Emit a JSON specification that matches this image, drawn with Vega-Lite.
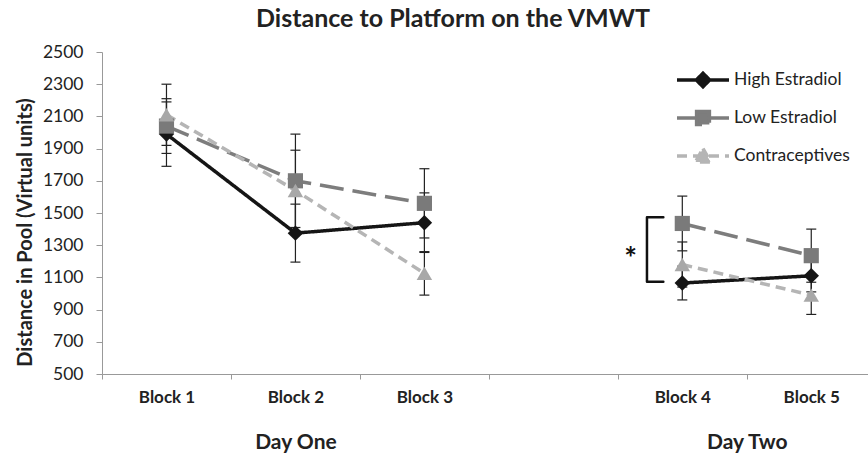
{
  "$schema": "https://vega.github.io/schema/vega-lite/v6.json",
  "width": 766,
  "height": 322,
  "autosize": {"type": "none"},
  "padding": {"left": 102, "top": 52, "right": 0, "bottom": 82},
  "background": "white",
  "config": {
    "view": {"stroke": null},
    "font": "Lato",
    "axisY": {"grid": false, "tickSize": 6, "tickColor": "#999", "domainColor": "#999", "labelFont": "Lato", "labelFontSize": 17.5, "labelColor": "#222", "labelPadding": 13, "labelOverlap": false,
      "titleFont": "Lato", "titleFontSize": 20, "titleFontWeight": "bold", "titleColor": "#222", "titleX": -77, "titleY": 180, "titleAngle": -90, "titleBaseline": "middle", "titleAlign": "center"}
  },
  "title": {"text": "Distance to Platform on the VMWT", "font": "Lato", "fontSize": 25, "fontWeight": "bold", "color": "#222", "frame": "group", "anchor": "middle", "dx": -32, "offset": 11},
  "datasets": {
    "means": [
      {"block": "Block 1", "slot": 1, "day": "Day One", "group": "High Estradiol", "mean": 1990, "lo": 1790, "hi": 2190},
      {"block": "Block 2", "slot": 2, "day": "Day One", "group": "High Estradiol", "mean": 1375, "lo": 1195, "hi": 1555},
      {"block": "Block 3", "slot": 3, "day": "Day One", "group": "High Estradiol", "mean": 1440, "lo": 1255, "hi": 1625},
      {"block": "Block 4", "slot": 5, "day": "Day Two", "group": "High Estradiol", "mean": 1065, "lo": 960, "hi": 1170},
      {"block": "Block 5", "slot": 6, "day": "Day Two", "group": "High Estradiol", "mean": 1110, "lo": 1010, "hi": 1210},
      {"block": "Block 1", "slot": 1, "day": "Day One", "group": "Low Estradiol", "mean": 2040, "lo": 1870, "hi": 2210},
      {"block": "Block 2", "slot": 2, "day": "Day One", "group": "Low Estradiol", "mean": 1700, "lo": 1410, "hi": 1990},
      {"block": "Block 3", "slot": 3, "day": "Day One", "group": "Low Estradiol", "mean": 1560, "lo": 1345, "hi": 1775},
      {"block": "Block 4", "slot": 5, "day": "Day Two", "group": "Low Estradiol", "mean": 1435, "lo": 1265, "hi": 1605},
      {"block": "Block 5", "slot": 6, "day": "Day Two", "group": "Low Estradiol", "mean": 1235, "lo": 1070, "hi": 1400},
      {"block": "Block 1", "slot": 1, "day": "Day One", "group": "Contraceptives", "mean": 2110, "lo": 1920, "hi": 2300},
      {"block": "Block 2", "slot": 2, "day": "Day One", "group": "Contraceptives", "mean": 1640, "lo": 1390, "hi": 1890},
      {"block": "Block 3", "slot": 3, "day": "Day One", "group": "Contraceptives", "mean": 1125, "lo": 990, "hi": 1260},
      {"block": "Block 4", "slot": 5, "day": "Day Two", "group": "Contraceptives", "mean": 1180, "lo": 1040, "hi": 1320},
      {"block": "Block 5", "slot": 6, "day": "Day Two", "group": "Contraceptives", "mean": 990, "lo": 870, "hi": 1110}
    ],
    "bracket": [
      {"bx": 4.853, "by": 1473, "o": 1},
      {"bx": 4.726, "by": 1473, "o": 2},
      {"bx": 4.726, "by": 1073, "o": 3},
      {"bx": 4.853, "by": 1073, "o": 4}
    ],
    "star": [
      {"sx": 4.6, "sy": 1260, "label": "*"}
    ]
  },
  "resolve": {"axis": {"x": "independent"}},
  "layer": [
    {
      "data": {"name": "means"},
      "mark": {"type": "rule", "color": "#222", "strokeWidth": 1.2},
      "encoding": {
        "x": {"field": "slot", "type": "quantitative", "scale": {"domain": [0.5, 6.44], "nice": false, "zero": false}, "axis": null},
        "y": {"field": "lo", "type": "quantitative", "scale": {"domain": [500, 2500], "nice": false, "zero": false},
          "axis": {"values": [500, 700, 900, 1100, 1300, 1500, 1700, 1900, 2100, 2300, 2500], "format": "d", "title": "Distance in Pool (Virtual units)", "labelFontSize": 17.5, "labelPadding": 13, "titleFontSize": 20}},
        "y2": {"field": "hi"}
      }
    },
    {
      "data": {"name": "means"},
      "mark": {"type": "tick", "orient": "horizontal", "color": "#222", "size": 10, "thickness": 1.2, "opacity": 1},
      "encoding": {
        "x": {"field": "slot", "type": "quantitative", "scale": {"domain": [0.5, 6.44], "nice": false, "zero": false}, "axis": null},
        "y": {"field": "lo", "type": "quantitative", "scale": {"domain": [500, 2500], "nice": false, "zero": false},
          "axis": {"values": [500, 700, 900, 1100, 1300, 1500, 1700, 1900, 2100, 2300, 2500], "format": "d", "title": "Distance in Pool (Virtual units)", "labelFontSize": 17.5, "labelPadding": 13, "titleFontSize": 20}}
      }
    },
    {
      "data": {"name": "means"},
      "mark": {"type": "tick", "orient": "horizontal", "color": "#222", "size": 10, "thickness": 1.2, "opacity": 1},
      "encoding": {
        "x": {"field": "slot", "type": "quantitative", "scale": {"domain": [0.5, 6.44], "nice": false, "zero": false}, "axis": null},
        "y": {"field": "hi", "type": "quantitative", "scale": {"domain": [500, 2500], "nice": false, "zero": false},
          "axis": {"values": [500, 700, 900, 1100, 1300, 1500, 1700, 1900, 2100, 2300, 2500], "format": "d", "title": "Distance in Pool (Virtual units)", "labelFontSize": 17.5, "labelPadding": 13, "titleFontSize": 20}}
      }
    },
    {
      "data": {"name": "means"},
      "mark": {"type": "line", "strokeWidth": 3.5},
      "encoding": {
        "x": {"field": "slot", "type": "quantitative", "scale": {"domain": [0.5, 6.44], "nice": false, "zero": false},
          "axis": {"orient": "bottom", "values": [0.5, 1.5, 2.5, 3.5, 4.5, 5.5],
            "labelExpr": "datum.value == 0.5 ? 'Block 1' : datum.value == 1.5 ? 'Block 2' : datum.value == 2.5 ? 'Block 3' : datum.value == 4.5 ? 'Block 4' : datum.value == 5.5 ? 'Block 5' : ''",
            "labelOffset": 64.5, "labelFlush": false, "labelOverlap": false, "labelBound": false, "grid": false, "title": null,
            "tickSize": 5, "tickColor": "#999", "domainColor": "#999", "labelFont": "Lato", "labelFontSize": 17, "labelFontWeight": "bold", "labelColor": "#222", "labelPadding": 10}},
        "y": {"field": "mean", "type": "quantitative", "scale": {"domain": [500, 2500], "nice": false, "zero": false},
          "axis": {"values": [500, 700, 900, 1100, 1300, 1500, 1700, 1900, 2100, 2300, 2500], "format": "d", "title": "Distance in Pool (Virtual units)", "labelFontSize": 17.5, "labelPadding": 13, "titleFontSize": 20}},
        "color": {"field": "group", "type": "nominal",
          "scale": {"domain": ["High Estradiol", "Low Estradiol", "Contraceptives"], "range": ["#151515", "#7d7d7d", "#b5b5b5"]},
          "legend": {"orient": "none", "legendX": 583, "legendY": 10, "title": null, "padding": 0,
            "labelFont": "Lato", "labelFontSize": 17.5, "labelColor": "#222", "labelOffset": 13,
            "symbolSize": 1024, "symbolStrokeWidth": 3.5, "rowPadding": 6,
            "encode": {"symbols": {"update": {
              "shape": {"signal": "datum.value === 'High Estradiol' ? 'M-1.625,0H1.625M0,-0.42L0.42,0L0,0.42L-0.42,0Z' : datum.value === 'Low Estradiol' ? 'M-1.625,0H1.625M-0.4,-0.4H0.4V0.4H-0.4Z' : 'M-1.625,0H1.625M0,-0.47L0.47,0.37L-0.47,0.37Z'"},
              "strokeDash": {"signal": "datum.value === 'High Estradiol' ? [1, 0] : datum.value === 'Low Estradiol' ? [22, 8] : [8, 6]"},
              "fill": {"scale": "color", "field": "value"},
              "stroke": {"scale": "color", "field": "value"},
              "fillOpacity": {"value": 1},
              "opacity": {"value": 1},
              "strokeWidth": {"value": 3.5}
            }}}}},
        "strokeDash": {"field": "group", "type": "nominal",
          "scale": {"domain": ["High Estradiol", "Low Estradiol", "Contraceptives"], "range": [[1, 0], [24, 9], [10, 6]]}, "legend": null},
        "detail": {"field": "day"}
      }
    },
    {
      "data": {"name": "means"},
      "transform": [{"filter": "datum.group === 'High Estradiol'"}],
      "mark": {"type": "point", "filled": true, "opacity": 1, "size": 240, "shape": "diamond", "color": "#151515"},
      "encoding": {
        "x": {"field": "slot", "type": "quantitative", "scale": {"domain": [0.5, 6.44], "nice": false, "zero": false}, "axis": null},
        "y": {"field": "mean", "type": "quantitative", "scale": {"domain": [500, 2500], "nice": false, "zero": false},
          "axis": {"values": [500, 700, 900, 1100, 1300, 1500, 1700, 1900, 2100, 2300, 2500], "format": "d", "title": "Distance in Pool (Virtual units)", "labelFontSize": 17.5, "labelPadding": 13, "titleFontSize": 20}}
      }
    },
    {
      "data": {"name": "means"},
      "transform": [{"filter": "datum.group === 'Low Estradiol'"}],
      "mark": {"type": "point", "filled": true, "opacity": 1, "size": 230, "shape": "square", "color": "#7a7a7a"},
      "encoding": {
        "x": {"field": "slot", "type": "quantitative", "scale": {"domain": [0.5, 6.44], "nice": false, "zero": false}, "axis": null},
        "y": {"field": "mean", "type": "quantitative", "scale": {"domain": [500, 2500], "nice": false, "zero": false},
          "axis": {"values": [500, 700, 900, 1100, 1300, 1500, 1700, 1900, 2100, 2300, 2500], "format": "d", "title": "Distance in Pool (Virtual units)", "labelFontSize": 17.5, "labelPadding": 13, "titleFontSize": 20}}
      }
    },
    {
      "data": {"name": "means"},
      "transform": [{"filter": "datum.group === 'Contraceptives'"}],
      "mark": {"type": "point", "filled": true, "opacity": 1, "size": 240, "shape": "triangle-up", "color": "#a8a8a8"},
      "encoding": {
        "x": {"field": "slot", "type": "quantitative", "scale": {"domain": [0.5, 6.44], "nice": false, "zero": false}, "axis": null},
        "y": {"field": "mean", "type": "quantitative", "scale": {"domain": [500, 2500], "nice": false, "zero": false},
          "axis": {"values": [500, 700, 900, 1100, 1300, 1500, 1700, 1900, 2100, 2300, 2500], "format": "d", "title": "Distance in Pool (Virtual units)", "labelFontSize": 17.5, "labelPadding": 13, "titleFontSize": 20}}
      }
    },
    {
      "data": {"name": "bracket"},
      "mark": {"type": "line", "color": "#111", "strokeWidth": 2.5, "strokeJoin": "round", "strokeCap": "round"},
      "encoding": {
        "x": {"field": "bx", "type": "quantitative", "scale": {"domain": [0.5, 6.44], "nice": false, "zero": false}, "axis": null},
        "y": {"field": "by", "type": "quantitative", "scale": {"domain": [500, 2500], "nice": false, "zero": false},
          "axis": {"values": [500, 700, 900, 1100, 1300, 1500, 1700, 1900, 2100, 2300, 2500], "format": "d", "title": "Distance in Pool (Virtual units)", "labelFontSize": 17.5, "labelPadding": 13, "titleFontSize": 20}},
        "order": {"field": "o"}
      }
    },
    {
      "data": {"name": "star"},
      "mark": {"type": "text", "fontSize": 30, "fontWeight": "bold", "color": "#111", "baseline": "middle", "align": "center", "dy": 8},
      "encoding": {
        "x": {"field": "sx", "type": "quantitative", "scale": {"domain": [0.5, 6.44], "nice": false, "zero": false},
          "axis": {"orient": "bottom", "values": [2, 5.5], "labelExpr": "datum.value == 2 ? 'Day One' : 'Day Two'", "domain": false, "ticks": false, "grid": false, "title": null,
            "labelFont": "Lato", "labelFontSize": 21, "labelFontWeight": "bold", "labelColor": "#222", "labelPadding": 57, "labelFlush": false, "labelOverlap": false, "labelBound": false}},
        "y": {"field": "sy", "type": "quantitative", "scale": {"domain": [500, 2500], "nice": false, "zero": false},
          "axis": {"values": [500, 700, 900, 1100, 1300, 1500, 1700, 1900, 2100, 2300, 2500], "format": "d", "title": "Distance in Pool (Virtual units)", "labelFontSize": 17.5, "labelPadding": 13, "titleFontSize": 20}},
        "text": {"field": "label"}
      }
    }
  ]
}
